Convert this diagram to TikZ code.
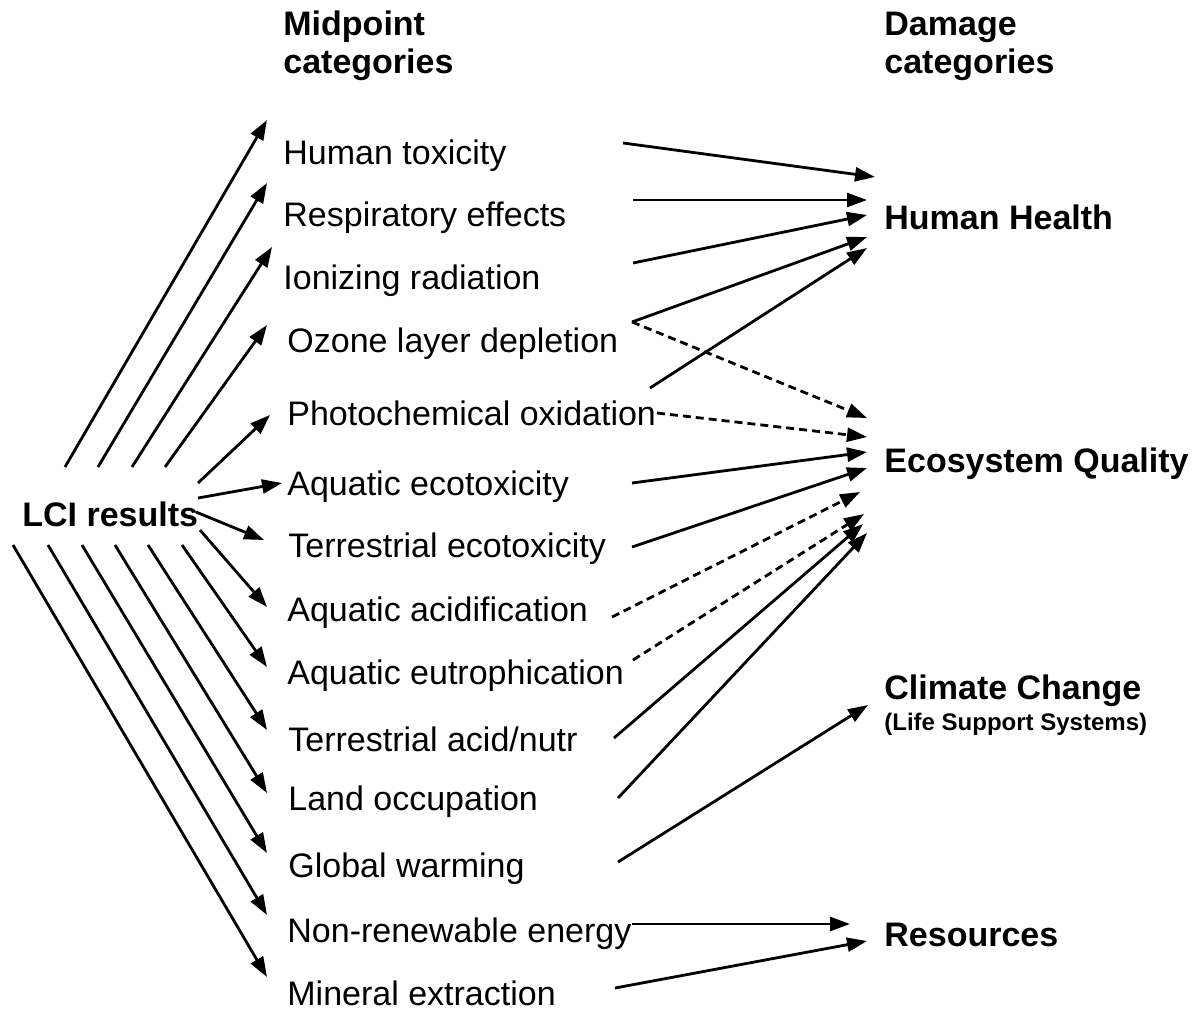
\documentclass[tikz,border=0pt]{standalone}
\usepackage{fontspec}
\setmainfont{Liberation Sans}
\usetikzlibrary{arrows.meta}
\begin{document}
\begin{tikzpicture}[x=0.5pt, y=-0.5pt,
  lbl/.style={anchor=west, inner sep=0pt, font=\fontsize{17}{20}\selectfont},
  blbl/.style={anchor=west, inner sep=0pt, font=\bfseries\fontsize{17}{20}\selectfont},
  head/.style={anchor=west, inner sep=0pt, align=left, font=\bfseries\fontsize{17}{19}\selectfont},
  conn/.style={line width=1.4pt, -{Triangle[length=10pt,width=7pt]}},
  dconn/.style={conn, dash pattern=on 4pt off 2.5pt}]
\useasboundingbox (0,0) rectangle (1202,1011);

% column headers
\node[head] (hmid) at (283,46) {Midpoint\\categories};
\node[head] (hdmg) at (884,46) {Damage\\categories};

% inventory result
\node[blbl] (lci) at (22,514) {LCI results};

% midpoint categories
\node[lbl] (m1)  at (283,156) {Human toxicity};
\node[lbl] (m2)  at (283,218) {Respiratory effects};
\node[lbl] (m3)  at (283,281) {Ionizing radiation};
\node[lbl] (m4)  at (287,344) {Ozone layer depletion};
\node[lbl] (m5)  at (287,413) {Photochemical oxidation};
\node[lbl] (m6)  at (287,487) {Aquatic ecotoxicity};
\node[lbl] (m7)  at (288,549) {Terrestrial ecotoxicity};
\node[lbl] (m8)  at (287,613) {Aquatic acidification};
\node[lbl] (m9)  at (287,676) {Aquatic eutrophication};
\node[lbl] (m10) at (288,739) {Terrestrial acid/nutr};
\node[lbl] (m11) at (288,802) {Land occupation};
\node[lbl] (m12) at (288,869) {Global warming};
\node[lbl] (m13) at (287,934) {Non-renewable energy};
\node[lbl] (m14) at (287,993) {Mineral extraction};

% damage categories
\node[blbl] (hh) at (884,217) {Human Health};
\node[blbl] (eq) at (884,464) {Ecosystem Quality};
\node[blbl] (cc) at (884,691) {Climate Change};
\node[blbl, font=\bfseries\fontsize{12}{14}\selectfont] (lss) at (884,724) {(Life Support Systems)};
\node[blbl] (rs) at (884,935) {Resources};

% start and end points of the LCI fan
\foreach \i/\sx/\sy/\tx/\ty in {
  1/65/467/267/120, 2/98/467/267/183, 3/132/467/272/247, 4/165/467/267/325,
  5/198/483/270/415, 6/198/498/282/483, 7/196/512/264/540, 8/200/530/267/607,
  9/182/545/267/667, 10/148/545/267/730, 11/115/545/267/793, 12/82/545/267/853,
  13/48/545/267/915, 14/13/545/267/977}{
  \coordinate (ls\i) at (\sx,\sy);
  \coordinate (lt\i) at (\tx,\ty);
}
\foreach \i in {1,...,14}{ \draw[conn] (ls\i) -- (lt\i); }

% start points of the midpoint-to-damage links
\coordinate (r1) at (623,143);
\coordinate (r2) at (633,200);
\coordinate (r3) at (633,263);
\coordinate (r4) at (632,322);
\coordinate (r5) at (650,388);
\coordinate (r5d) at (657,413);
\coordinate (r6) at (632,483);
\coordinate (r7) at (632,547);
\coordinate (r8) at (612,617);
\coordinate (r9) at (633,660);
\coordinate (r10) at (614,738);
\coordinate (r11) at (618,798);
\coordinate (r12) at (618,862);
\coordinate (r13) at (632,924);
\coordinate (r14) at (615,988);

% arrow tips at the damage categories
\coordinate (h1) at (875,177);
\coordinate (h2) at (867,200);
\coordinate (h3) at (867,215);
\coordinate (h4) at (867,237);
\coordinate (h5) at (867,248);
\coordinate (e1) at (867,418);
\coordinate (e2) at (867,437);
\coordinate (e3) at (867,452);
\coordinate (e4) at (867,468);
\coordinate (e5) at (860,492);
\coordinate (e6) at (864,514);
\coordinate (e7) at (863,524);
\coordinate (e8) at (867,533);
\coordinate (c1) at (868,705);
\coordinate (q1) at (850,924);
\coordinate (q2) at (867,941);

% human health
\draw[conn] (r1) -- (h1);
\draw[conn] (r2) -- (h2);
\draw[conn] (r3) -- (h3);
\draw[conn] (r4) -- (h4);
\draw[conn] (r5) -- (h5);
% ecosystem quality
\draw[dconn] (r4) -- (e1);
\draw[dconn] (r5d) -- (e2);
\draw[conn] (r6) -- (e3);
\draw[conn] (r7) -- (e4);
\draw[dconn] (r8) -- (e5);
\draw[dconn] (r9) -- (e6);
\draw[conn] (r10) -- (e7);
\draw[conn] (r11) -- (e8);
% climate change
\draw[conn] (r12) -- (c1);
% resources
\draw[conn] (r13) -- (q1);
\draw[conn] (r14) -- (q2);
\end{tikzpicture}
\end{document}
